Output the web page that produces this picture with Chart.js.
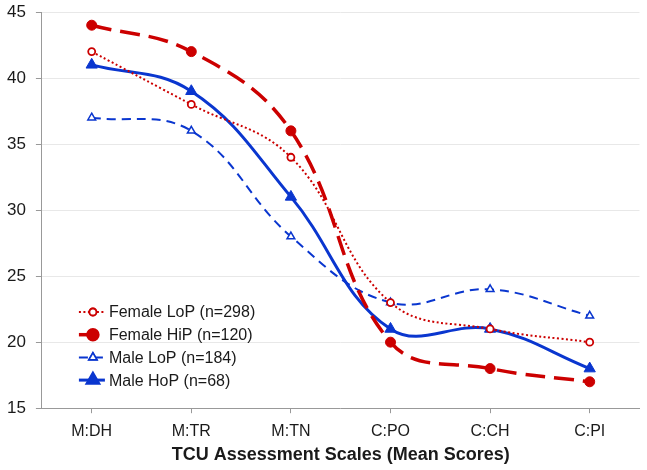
<!DOCTYPE html>
<html>
<head>
<meta charset="utf-8">
<script src="https://cdn.jsdelivr.net/npm/chart.js@4"></script>
<style>
  html, body { margin: 0; padding: 0; background: #fff; }
  #wrap { width: 647px; height: 470px; }
</style>
</head>
<body>
<div id="wrap"><canvas id="myChart"></canvas></div>
<script>
// Categories and series values
const scales = ['M:DH', 'M:TR', 'M:TN', 'C:PO', 'C:CH', 'C:PI'];
const femaleLoP = [42, 38, 34, 23, 21, 20];
const femaleHiP = [44, 42, 36, 20, 18, 17];
const maleLoP = [37, 36, 28, 23, 24, 22];
const maleHoP = [41, 39, 31, 21, 21, 18];

const RED = '#CC0000';
const BLUE = '#0A36CF';
const FONT = '"Liberation Sans", Arial, sans-serif';

// Legend drawn inside the plot area (lower left)
const insideLegend = {
    id: 'insideLegend',
    afterDraw(chart) {
        const ctx = chart.ctx;
        const x0 = chart.chartArea.left + 37;
        let y = 312;
        ctx.save();
        ctx.font = '16px ' + FONT;
        ctx.textBaseline = 'middle';
        chart.data.datasets.forEach(ds => {
            // line sample
            ctx.beginPath();
            ctx.setLineDash(ds.borderDash || []);
            ctx.lineWidth = ds.borderWidth;
            ctx.strokeStyle = ds.borderColor;
            ctx.moveTo(x0, y);
            ctx.lineTo(x0 + 26, y);
            ctx.stroke();
            ctx.setLineDash([]);
            // marker
            Chart.helpers.drawPoint(ctx, {
                pointStyle: ds.pointStyle,
                radius: ds.pointRadius,
                borderWidth: ds.pointBorderWidth
            }, x0 + 14, y);
            ctx.fillStyle = ds.pointBackgroundColor;
            ctx.strokeStyle = ds.borderColor;
            ctx.lineWidth = ds.pointBorderWidth;
            ctx.fill();
            ctx.stroke();
            // text
            ctx.fillStyle = '#1a1a1a';
            ctx.fillText(ds.label, x0 + 30, y + 1);
            y += 22.7;
        });
        ctx.restore();
    }
};

const myChart = new Chart(document.getElementById('myChart'), {
    type: 'line',
    data: {
        labels: scales,
        datasets: [
            {
                label: 'Female LoP (n=298)',
                data: femaleLoP,
                borderColor: RED,
                borderWidth: 2,
                borderDash: [2, 2.5],
                pointStyle: 'circle',
                pointRadius: 3.5,
                pointBorderWidth: 1.8,
                pointBackgroundColor: '#ffffff',
                pointBorderColor: RED,
                tension: 0.4
            },
            {
                label: 'Female HiP (n=120)',
                data: femaleHiP,
                borderColor: RED,
                borderWidth: 3.5,
                borderDash: [20, 9],
                pointStyle: 'circle',
                pointRadius: 5,
                pointBorderWidth: 1,
                pointBackgroundColor: RED,
                pointBorderColor: RED,
                tension: 0.4
            },
            {
                label: 'Male LoP (n=184)',
                data: maleLoP,
                borderColor: BLUE,
                borderWidth: 2,
                borderDash: [9, 6],
                pointStyle: 'triangle',
                pointRadius: 4.5,
                pointBorderWidth: 1.5,
                pointBackgroundColor: '#ffffff',
                pointBorderColor: BLUE,
                tension: 0.4
            },
            {
                label: 'Male HoP (n=68)',
                data: maleHoP,
                borderColor: BLUE,
                borderWidth: 3,
                pointStyle: 'triangle',
                pointRadius: 6.5,
                pointBorderWidth: 1,
                pointBackgroundColor: BLUE,
                pointBorderColor: BLUE,
                tension: 0.4
            }
        ]
    },
    options: {
        responsive: true,
        maintainAspectRatio: false,
        animation: false,
        layout: { padding: { top: 0, right: 6, left: -3, bottom: 4 } },
        scales: {
            x: {
                offset: true,
                grid: {
                    display: true,
                    drawOnChartArea: false,
                    drawTicks: true,
                    tickLength: 5,
                    color: '#999999'
                },
                border: { color: '#999999', width: 1 },
                ticks: {
                    color: '#1a1a1a',
                    padding: 9,
                    font: { family: FONT, size: 16 }
                },
                title: {
                    display: true,
                    text: 'TCU Assessment Scales (Mean Scores)',
                    color: '#1a1a1a',
                    padding: { top: -6, bottom: 0 },
                    font: { family: FONT, size: 18, weight: 'bold' }
                }
            },
            y: {
                min: 15,
                max: 45,
                afterFit(scale) {
                    // tick padding should only push labels sideways, not shrink the plot top
                    scale.paddingTop = 12;
                    scale.paddingBottom = 0;
                },
                ticks: {
                    stepSize: 5,
                    color: '#1a1a1a',
                    padding: 10,
                    font: { family: FONT, size: 17 }
                },
                grid: {
                    color: '#e8e8e8',
                    tickColor: '#999999',
                    tickLength: 6
                },
                border: { color: '#999999', width: 1 }
            }
        },
        plugins: {
            legend: { display: false },
            tooltip: { enabled: false }
        }
    },
    plugins: [insideLegend]
});
</script>
</body>
</html>
